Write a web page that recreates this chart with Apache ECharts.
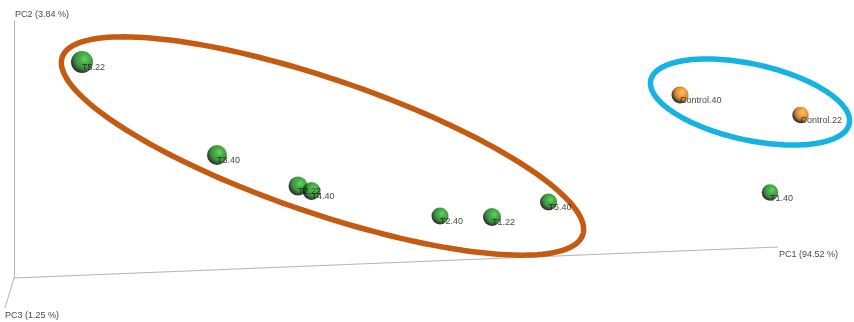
<!DOCTYPE html>
<html>
<head>
<meta charset="utf-8">
<script src="https://cdn.jsdelivr.net/npm/echarts@6/dist/echarts.min.js"></script>
<style>
  html, body { margin: 0; padding: 0; background: #fff; }
  #chart { width: 854px; height: 322px; }
</style>
</head>
<body>
<div id="chart"></div>
<script>
// Projected ordination coordinates (screen plane of the 3D view)
const sampleNames = ['T5.22', 'T3.40', 'T2.22', 'T4.40', 'T2.40', 'T1.22', 'T5.40', 'T1.40', 'Control.40', 'Control.22'];
const sampleGroup = ['T', 'T', 'T', 'T', 'T', 'T', 'T', 'T', 'C', 'C'];
const projX = [82, 217, 298, 311.5, 440, 492, 548.5, 770, 680, 800.5];
const projY = [62, 155, 186, 191, 216, 217, 202, 192.5, 95, 115];
const depthSize = [22, 20, 19, 18, 17, 18, 17, 16.5, 17, 16.5];

// Axis triad: origin and the end of each principal coordinate
const axisNames = ['PC1 (94.52 %)', 'PC2 (3.84 %)', 'PC3 (1.25 %)'];
const axisOrigin = [14, 278];
const axisEndX = [778, 14, 5];
const axisEndY = [247, 20, 308];

// Group outlines: centre x, centre y, semi-major, semi-minor, tilt (deg)
const hullCx = [322.5, 750];
const hullCy = [146, 102];
const hullA = [275, 101.6];
const hullB = [67, 38];
const hullTilt = [18.85, 12.4];
const hullColor = ['#c55a11', '#15b3e2'];

const sphereGreen = {
  type: 'radial', x: 0.62, y: 0.36, r: 0.72,
  colorStops: [
    { offset: 0, color: '#3fcc3f' },
    { offset: 0.28, color: '#1c9c1c' },
    { offset: 0.55, color: '#107a10' },
    { offset: 0.72, color: '#064206' },
    { offset: 0.86, color: '#000000' },
    { offset: 1, color: '#000000' }
  ]
};
const sphereOrange = {
  type: 'radial', x: 0.62, y: 0.36, r: 0.72,
  colorStops: [
    { offset: 0, color: '#ffb84a' },
    { offset: 0.28, color: '#ef8c10' },
    { offset: 0.55, color: '#c06c00' },
    { offset: 0.72, color: '#5a3000' },
    { offset: 0.86, color: '#000000' },
    { offset: 1, color: '#000000' }
  ]
};

const points = sampleNames.map((n, i) => ({
  name: n,
  value: [projX[i], projY[i], depthSize[i]],
  itemStyle: { color: sampleGroup[i] === 'C' ? sphereOrange : sphereGreen }
}));

const axisLines = axisNames.map((n, i) => ({
  coords: [axisOrigin, [axisEndX[i], axisEndY[i]]]
}));

const axisLabelOffsets = [[1, 8], [1, -5], [0, 8]];
const axisLabelPts = axisNames.map((n, i) => ({
  name: n,
  value: [axisEndX[i], axisEndY[i]],
  label: { offset: axisLabelOffsets[i] }
}));

const hulls = hullCx.map((c, i) => ({
  value: [c, hullCy[i], hullA[i], hullB[i], hullTilt[i]],
  itemStyle: { borderColor: hullColor[i] }
}));

const chart = echarts.init(document.getElementById('chart'), null, { renderer: 'canvas' });
chart.setOption({
  animation: false,
  backgroundColor: '#ffffff',
  grid: { left: 0, right: 0, top: 0, bottom: 0 },
  xAxis: { type: 'value', min: 0, max: 854, show: false },
  yAxis: { type: 'value', min: 0, max: 322, inverse: true, show: false },
  series: [
    {
      type: 'lines',
      coordinateSystem: 'cartesian2d',
      silent: true,
      z: 1,
      lineStyle: { color: '#b4b4b4', width: 1, opacity: 1 },
      data: axisLines
    },
    {
      type: 'scatter',
      silent: true,
      symbolSize: 0,
      z: 2,
      label: {
        show: true,
        position: [0, 0],
        align: 'left',
        verticalAlign: 'middle',
        formatter: '{b}',
        fontFamily: 'Liberation Sans, Arial, sans-serif',
        fontSize: 9,
        color: '#111'
      },
      data: axisLabelPts
    },
    {
      type: 'custom',
      silent: true,
      z: 3,
      renderItem: function (params, api) {
        const cx = api.value(0), cy = api.value(1);
        const a = api.value(2), b = api.value(3);
        const t = api.value(4) * Math.PI / 180;
        const pts = [];
        for (let k = 0; k < 180; k++) {
          const u = k / 180 * Math.PI * 2;
          const ex = a * Math.cos(u), ey = b * Math.sin(u);
          pts.push(api.coord([cx + ex * Math.cos(t) - ey * Math.sin(t),
                              cy + ex * Math.sin(t) + ey * Math.cos(t)]));
        }
        return {
          type: 'polygon',
          shape: { points: pts },
          style: {
            fill: null,
            stroke: hulls[params.dataIndex].itemStyle.borderColor,
            lineWidth: 5.5
          }
        };
      },
      data: hulls
    },
    {
      type: 'scatter',
      silent: true,
      z: 4,
      symbol: 'circle',
      symbolSize: function (v) { return v[2]; },
      data: points
    },
    {
      type: 'scatter',
      silent: true,
      z: 5,
      symbolSize: 0,
      label: {
        show: true,
        position: [0, 0],
        align: 'left',
        verticalAlign: 'middle',
        offset: [0, 6],
        formatter: '{b}',
        fontFamily: 'Liberation Sans, Arial, sans-serif',
        fontSize: 9,
        color: '#111'
      },
      data: sampleNames.map((n, i) => ({ name: n, value: [projX[i], projY[i]] }))
    }
  ]
});
</script>
</body>
</html>
